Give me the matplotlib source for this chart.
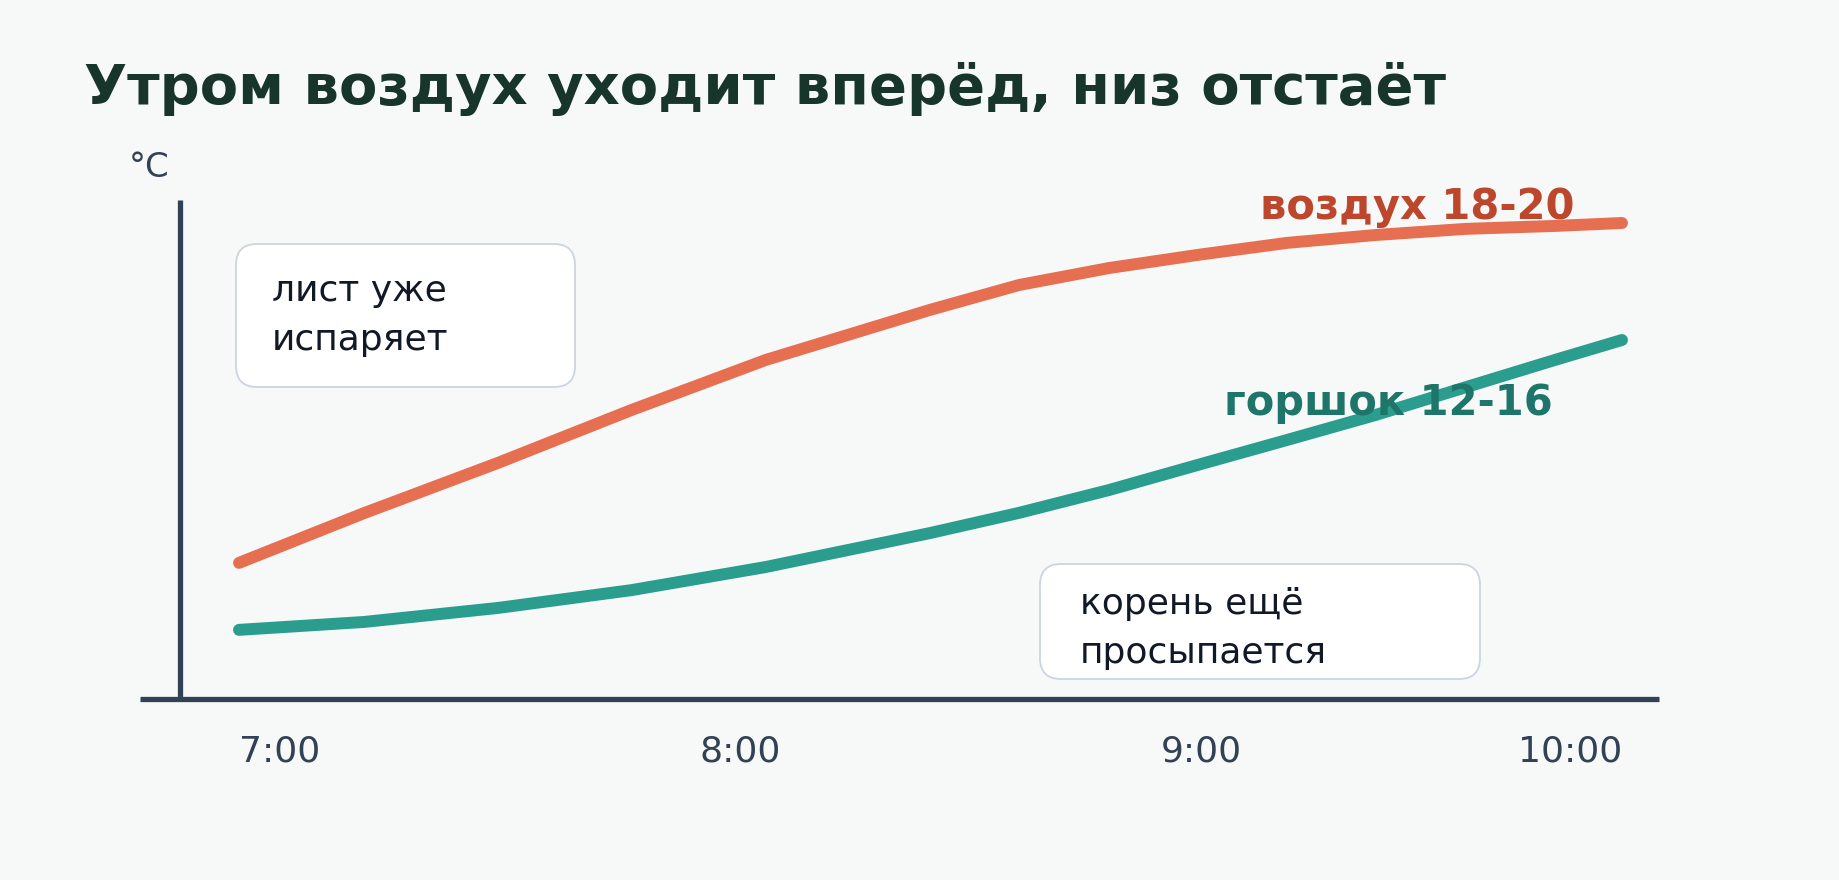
import matplotlib.pyplot as plt
from matplotlib.patches import FancyBboxPatch

plt.rcParams['font.family'] = ['DejaVu Sans']

BG = '#F7F9F8'
AXIS_COLOR = '#334155'
AIR_COLOR = '#E76F51'
AIR_TEXT = '#BC472C'
POT_COLOR = '#2A9D8F'
POT_TEXT = '#1E766A'
TITLE_COLOR = '#17352B'
NOTE_COLOR = '#111827'

# data (hours, °C)
air_hours = [7.000, 7.271, 7.562, 7.852, 8.143, 8.499, 8.692, 8.887, 9.080, 9.273, 9.466, 9.662, 9.855, 10.000]
air_temp = [8.38, 10.08, 11.80, 13.61, 15.32, 17.03, 17.88, 18.46, 18.91, 19.32, 19.59, 19.80, 19.90, 20.00]

pot_hours = [7.000, 7.271, 7.562, 7.852, 8.143, 8.499, 8.692, 8.887, 9.080, 9.273, 9.466, 9.662, 9.855, 10.000]
pot_temp = [6.09, 6.36, 6.84, 7.45, 8.24, 9.40, 10.09, 10.87, 11.73, 12.58, 13.44, 14.39, 15.32, 16.00]

tick_hours = [7, 8, 9, 10]
tick_labels = ['7:00', '8:00', '9:00', '10:00']

title = 'Утром воздух уходит вперёд, низ отстаёт'
air_label = 'воздух 18-20'
pot_label = 'горшок 12-16'
notes = ['лист уже\nиспаряет', 'корень ещё\nпросыпается']

W, H = 1840, 880
fig = plt.figure(figsize=(W / 100, H / 100), dpi=100, facecolor=BG)

# overlay in pixel units for the note boxes
ov = fig.add_axes([0, 0, 1, 1], zorder=0)
ov.set_xlim(0, W)
ov.set_ylim(H, 0)
ov.axis('off')

# main axes: spans x 140..1659 px, y 200..699 px
x0, x1, y_top, y_bot = 140, 1659, 200, 699
ax = fig.add_axes([x0 / W, 1 - y_bot / H, (x1 - x0) / W, (y_bot - y_top) / H], zorder=1)
ax.set_facecolor('none')

px_per_h = 461.0
ax.set_xlim(7 - (239 - x0) / px_per_h, 7 + (x1 - 239) / px_per_h)
px_per_c = 29.25
ax.set_ylim(20 - (y_bot - 223) / px_per_c, 20 + (223 - y_top) / px_per_c)

ax.plot(air_hours, air_temp, color=AIR_COLOR, lw=8.6, solid_capstyle='round',
        solid_joinstyle='round', zorder=3)
ax.plot(pot_hours, pot_temp, color=POT_COLOR, lw=8.6, solid_capstyle='round',
        solid_joinstyle='round', zorder=3)

for s in ['top', 'right']:
    ax.spines[s].set_visible(False)
ax.spines['left'].set_position(('data', 7 - (239 - 180) / px_per_h))
for s in ['left', 'bottom']:
    ax.spines[s].set_color(AXIS_COLOR)
    ax.spines[s].set_linewidth(3.8)
    ax.spines[s].set_capstyle('butt')

ax.set_yticks([])
ax.set_xticks(tick_hours)
ax.set_xticklabels(tick_labels, fontsize=26, color=AXIS_COLOR)
ax.tick_params(axis='x', length=0, pad=25.5)
for lbl in ax.get_xticklabels()[:-1]:
    lbl.set_ha('left')
ax.get_xticklabels()[-1].set_ha('right')

# line labels
ax.text(9.215, 20.14, air_label, color=AIR_TEXT, fontsize=30, fontweight='bold',
        va='baseline', ha='left', zorder=4)
ax.text(9.137, 13.44, pot_label, color=POT_TEXT, fontsize=30, fontweight='bold',
        va='baseline', ha='left', zorder=4)

# note boxes (text anchored at the baseline of the last line)
boxes = [(236, 244, 339, 143), (1040, 564, 440, 115)]
text_pos = [(272, 350), (1080, 663)]
for (bx, by, bw, bh), (tx, ty), note in zip(boxes, text_pos, notes):
    ov.add_patch(FancyBboxPatch((bx, by), bw, bh,
                                boxstyle='round,pad=0,rounding_size=21',
                                facecolor='white', edgecolor='#CBD5E1', lw=1.3))
    ov.text(tx, ty, note, fontsize=26, color=NOTE_COLOR, va='baseline', ha='left',
            linespacing=1.55)

fig.text(84 / W, 1 - 104 / H, title, fontsize=40.3, fontweight='bold',
         color=TITLE_COLOR, va='baseline', ha='left')
fig.text(129 / W, 1 - 177 / H, '°C', fontsize=24.5, color=AXIS_COLOR,
         va='baseline', ha='left')

fig.savefig('out.png', dpi=100, facecolor=BG)
